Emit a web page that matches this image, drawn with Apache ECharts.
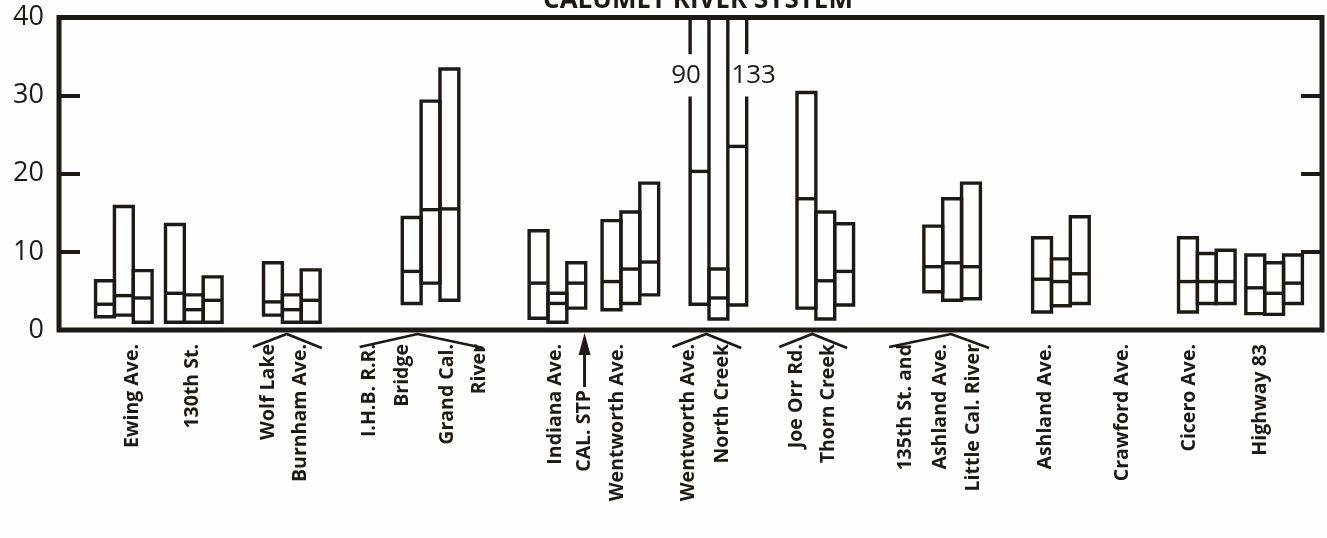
<!DOCTYPE html>
<html><head><meta charset="utf-8">
<script src="https://cdn.jsdelivr.net/npm/echarts@6/dist/echarts.min.js"></script>
<style>html,body{margin:0;padding:0;background:#fefefe}#c{width:1327px;height:538px}</style>
</head><body><div id="c"></div>
<script>
// ---------------- DATA ----------------
const stations = ['Ewing Ave.', '130th St.', 'Wolf Lake / Burnham Ave.', 'I.H.B. R.R. Bridge / Grand Cal. River',
  'Indiana Ave.', 'Wentworth Ave.', 'Wentworth Ave. / North Creek', 'Joe Orr Rd. / Thorn Creek',
  '135th St. and Ashland Ave. / Little Cal. River', 'Ashland Ave.', 'Cicero Ave.', 'Highway 83'];
// three boxes per station: minimum, median, maximum
const boxMin = [[1.7,1.9,1.0],[1.0,1.0,1.0],[1.9,1.0,1.0],[3.4,6.0,3.8],[1.5,1.0,2.8],[2.6,3.4,4.5],
  [3.3,1.4,3.2],[2.8,1.4,3.2],[4.9,3.8,4.0],[2.3,3.1,3.4],[2.3,3.4,3.4],[2.1,2.0,3.4]];
const boxMedian = [[3.3,4.4,4.1],[4.7,2.6,3.8],[3.6,2.6,3.8],[7.5,15.4,15.5],[6.0,3.4,6.0],[6.2,7.8,8.7],
  [20.3,4.1,23.5],[16.8,6.3,7.5],[8.1,8.6,8.1],[6.5,6.2,7.2],[6.2,6.2,6.2],[5.4,4.7,6.0]];
const boxMax = [[6.3,15.8,7.6],[13.5,4.5,6.8],[8.6,4.5,7.7],[14.4,29.3,33.4],[12.7,4.7,8.6],[14.0,15.1,18.8],
  [90,7.8,133],[30.4,15.1,13.6],[13.3,16.8,18.8],[11.8,9.1,14.5],[11.8,9.8,10.2],[9.6,8.6,9.6]];
const yTicks = [0, 10, 20, 30, 40];
const titleText = 'CALUMET RIVER SYSTEM';
const labelTexts = ['Ewing Ave.', '130th St.', 'Wolf Lake', 'Burnham Ave.', 'I.H.B. R.R.', 'Bridge', 'Grand Cal.', 'River',
  'Indiana Ave.', 'CAL. STP', 'Wentworth Ave.', 'Wentworth Ave.', 'North Creek', 'Joe Orr Rd.', 'Thorn Creek',
  '135th St. and', 'Ashland Ave.', 'Little Cal. River', 'Ashland Ave.', 'Crawford Ave.', 'Cicero Ave.', 'Highway 83'];

// ---------------- LAYOUT (axis units along the river line) ----------------
const stationX = [3.44, 7.15, 12.35, 19.71, 26.44, 30.31, 34.98, 40.65, 47.38, 53.15, 60.89, 64.46];
const labelX = [3.92, 7.10, 11.13, 12.82, 16.48, 18.23, 20.61, 22.31, 26.34, 27.88, 29.62, 33.39, 35.19,
  39.11, 40.81, 44.89, 46.74, 48.49, 52.31, 56.44, 59.99, 63.75];
const brackets = [[10.28, 12.08, 13.94], [15.95, 19.02, 22.52], [32.54, 34.34, 36.19], [38.21, 39.96, 41.81], [44.04, 47.32, 49.34]];
const arrowLabel = 9; // 'CAL. STP' has an arrow pointing to the axis

const INK = '#1d1915';
const FONT = '"Open Sans", "Noto Sans", "DejaVu Sans", sans-serif';
const Y_MAX = 40;

const boxData = [];
stations.forEach((s, g) => {
  for (let k = 0; k < 3; k++) boxData.push([stationX[g] + k - 1, boxMin[g][k], boxMedian[g][k], boxMax[g][k], k]);
});

function renderBox(params, api) {
  const x = api.value(0), lo = api.value(1), med = api.value(2), hi = api.value(3), k = api.value(4);
  const w = api.size([1, 0])[0];
  const top = Math.min(hi, Y_MAX);
  const pLo = api.coord([x, lo]), pMed = api.coord([x, med]), pTop = api.coord([x, top]);
  const xl = pLo[0] - w / 2, xr = pLo[0] + w / 2;
  const st = { stroke: INK, lineWidth: 3.4, fill: 'none' };
  const ch = [];
  if (hi <= Y_MAX) {
    ch.push({ type: 'rect', shape: { x: xl, y: pTop[1], width: w, height: pLo[1] - pTop[1] }, style: st });
  } else {
    const gapLo = api.coord([x, 29.9])[1], gapHi = api.coord([x, 35.3])[1];
    const outer = k === 0 ? xl : xr, inner = k === 0 ? xr : xl;
    ch.push({ type: 'polyline', shape: { points: [[inner, pTop[1]], [inner, pLo[1]], [outer, pLo[1]], [outer, gapLo]] }, style: st });
    ch.push({ type: 'line', shape: { x1: outer, y1: gapHi, x2: outer, y2: pTop[1] }, style: st });
    ch.push({ type: 'text', x: outer + (k === 0 ? -4 : 7), y: api.coord([x, 32.6])[1],
      style: { text: String(hi), align: 'center', verticalAlign: 'middle', textAlign: 'center', textVerticalAlign: 'middle',
        font: '26px ' + FONT, fill: INK } });
  }
  ch.push({ type: 'line', shape: { x1: xl, y1: pMed[1], x2: xr, y2: pMed[1] }, style: st });
  return { type: 'group', children: ch };
}

const yAxisBase = {
  type: 'value', min: yTicks[0], max: yTicks[yTicks.length - 1], interval: yTicks[1] - yTicks[0],
  axisLine: { show: false }, splitLine: { show: false },
  axisTick: { show: true, inside: true, length: 21, lineStyle: { width: 4, color: INK } }
};

const chart = echarts.init(document.getElementById('c'), null, { renderer: 'canvas' });
chart.setOption({
  backgroundColor: '#fefefe',
  animation: false,
  grid: { left: 59, right: 5, top: 17.5, bottom: 208, show: true, borderColor: INK, borderWidth: 5, backgroundColor: 'transparent' },
  xAxis: { type: 'value', min: 0, max: 67, show: false },
  yAxis: [
    Object.assign({}, yAxisBase, { position: 'left', axisLabel: { fontSize: 27, color: INK, margin: 15, fontFamily: FONT } }),
    Object.assign({}, yAxisBase, { position: 'right', axisLabel: { show: false } })
  ],
  series: [{ type: 'custom', renderItem: renderBox, data: boxData, clip: false, encode: { x: 0, y: [1, 2, 3] } }]
});

const axisY = chart.convertToPixel({ yAxisIndex: 0 }, 0);
const px = v => chart.convertToPixel({ xAxisIndex: 0 }, v);
const graphics = [];
graphics.push({ type: 'text', x: 698, y: 1, style: { text: titleText, align: 'center', verticalAlign: 'middle',
  textAlign: 'center', textVerticalAlign: 'middle', font: 'bold 26px ' + FONT, fill: INK } });
labelTexts.forEach((t, i) => {
  const yy = axisY + (i === arrowLabel ? 60 : 14);
  graphics.push({ type: 'text', x: px(labelX[i]), y: yy, rotation: Math.PI / 2,
    style: { text: t, align: 'right', verticalAlign: 'middle', textAlign: 'right', textVerticalAlign: 'middle',
      font: 'bold 19.5px ' + FONT, fill: INK } });
});
brackets.forEach(b => {
  graphics.push({ type: 'polyline', shape: { points: [[px(b[0]), axisY + 17], [px(b[1]), axisY + 4], [px(b[2]), axisY + 18]] },
    style: { stroke: INK, lineWidth: 2.6, fill: 'none' } });
});
const ax = px(labelX[arrowLabel]);
graphics.push({ type: 'line', shape: { x1: ax, y1: axisY + 57, x2: ax, y2: axisY + 18 }, style: { stroke: INK, lineWidth: 3 } });
graphics.push({ type: 'polygon', shape: { points: [[ax, axisY + 3], [ax - 6, axisY + 25], [ax + 6, axisY + 25]] }, style: { fill: INK } });
chart.setOption({ graphic: graphics });
</script>
</body></html>
